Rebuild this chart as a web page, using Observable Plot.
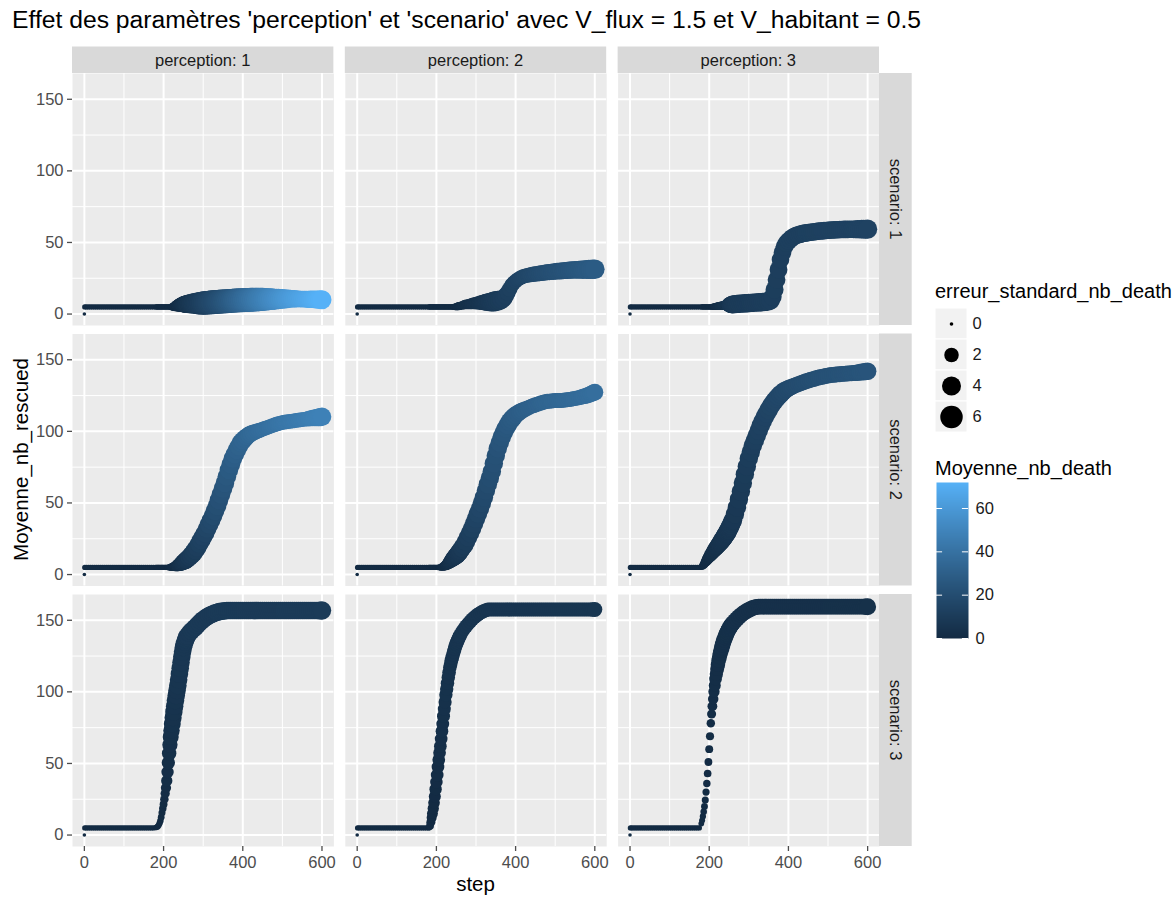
<!DOCTYPE html>
<html><head><meta charset="utf-8">
<script src="https://cdn.jsdelivr.net/npm/d3@7"></script>
<script src="https://cdn.jsdelivr.net/npm/@observablehq/plot@0.6"></script>
<style>
body{margin:0;background:#fff;font-family:"Liberation Sans",Arial,sans-serif;}
#root{position:relative;width:1175px;height:897px;overflow:hidden;background:#fff;}
#title{position:absolute;left:12px;top:8px;font-size:24.7px;line-height:1;color:#000;white-space:nowrap;}
#chart{position:absolute;left:0;top:40px;}
.leg{position:absolute;}
.legtitle{position:absolute;font-size:20px;line-height:1;color:#000;white-space:nowrap;}
#warn{position:absolute;left:940px;top:700px;color:red;font-size:12px;width:230px;}
</style></head>
<body><div id="root">
<div id="title">Effet des paramètres 'perception' et 'scenario' avec V_flux = 1.5 et V_habitant = 0.5</div>
<div id="chart"></div>
<div class="legtitle" id="sizeTitle" style="left:935px;top:281px;">erreur_standard_nb_death</div>
<div class="leg" id="sizeLegend" style="left:935px;top:307px;"></div>
<div class="legtitle" id="colorTitle" style="left:935px;top:458px;">Moyenne_nb_death</div>
<div class="leg" id="colorLegend" style="left:926px;top:472px;"></div>
<div id="warn"></div>
</div>
<script>
// ---------- categories / ticks ----------
const perceptions = [1, 2, 3];
const scenarios = [1, 2, 3];
const xMajor = [0, 200, 400, 600];
const xMinor = [100, 300, 500];
const yMajor = [0, 50, 100, 150];
const yMinor = [25, 75, 125];
const sizeBreaks = [0, 2, 4, 6];
const colorTicks = [0, 20, 40, 60];

// ---------- steps (x values) ----------
const steps = [0,1,5,10,15,20,25,30,35,40,45,50,55,60,65,70,75,80,85,90,95,100,105,110,115,120,125,130,135,140,145,150,155,160,165,170,175,
180,182,184,186,188,190,192,194,196,198,200,202,204,206,208,210,212,214,216,218,220,222,224,226,228,230,232,234,236,238,240,242,244,246,248,250,252,254,256,258,260,
265,270,275,280,285,290,295,300,305,310,315,320,325,330,335,340,345,350,355,360,365,370,375,380,385,390,395,400,405,410,415,420,425,430,435,440,445,450,455,460,465,470,475,480,485,490,495,500,505,510,515,520,525,530,535,540,545,550,555,560,565,570,575,580,585,590,595,600];

// common start (steps 0..175)
const start_rescued = [0,
5,5,5,5,5,5,5,5,5,
5,5,5,5,5,5,5,5,5,
5,5,5,5,5,5,5,5,5,
5,5,5,5,5,5,5,5,5];
const start_err = [0,
0.05,0.05,0.05,0.05,0.05,0.05,0.05,0.05,0.05,
0.05,0.05,0.05,0.05,0.05,0.05,0.05,0.05,0.05,
0.05,0.05,0.05,0.05,0.05,0.05,0.05,0.05,0.05,
0.05,0.05,0.05,0.05,0.05,0.05,0.05,0.05,0.05];
const start_death = [0,
0,0,0,0,0,0,0,0,0,
0,0,0,0,0,0,0,0,0,
0,0,0,0,0,0,0,0,0,
0,0,0,0,0,0,0,0,0];

// ---------- perception 1, scenario 1 ----------
const rescued_p1_s1 = [...start_rescued,
5,5,5,5,5,5,5,5,5,5,5,
5,5,5,5,5,5,5,5,5,5,5,
5.1,5.2,5.4,5.6,5.7,5.9,6,6.2,6.3,6.4,6.5,6.6,6.7,6.75,6.8,6.85,6.9,7,7.05,
7.2,7.3,7.4,7.4,7.5,7.5,7.6,7.7,7.8,7.9,
8,8.2,8.3,8.4,8.5,8.6,8.7,8.8,8.9,9,
9.1,9.2,9.3,9.4,9.5,9.6,9.7,9.7,9.8,9.8,
9.9,10,10,10.1,10.1,10.2,10.2,10.3,10.3,10.3,
10.4,10.4,10.4,10.4,10.5,10.5,10.5,10.6,10.6,10.6,
10.7,10.7,10.7,10.7,10.6,10.6,10.5,10.5,10.4,10.4,
10.3,10.3,10.3,10.2,10.2,10.1,10.1,10];
const err_p1_s1 = [...start_err,
0.05,0.05,0.05,0.05,0.05,0.05,0.05,0.05,0.05,0.05,
0.05,0.05,0.05,0.05,0.05,0.05,0.05,0.05,0.05,
0.1,0.15,0.2,0.3,0.45,0.6,0.75,0.9,1.05,1.2,1.4,1.6,1.8,2,2.2,2.4,2.6,2.8,3,3.2,3.4,3.6,
4,4.3,4.7,5.1,5.5,5.9,6.2,6.5,6.7,6.8,
6.9,7,7,7,7,7,7,7,7,7,
7,7,7,7,7,7,7,7,7,7,
7,7,6.9,6.8,6.7,6.6,6.5,6.3,6.1,5.9,
5.7,5.5,5.3,5.1,4.9,4.7,4.5,4.3,4.1,3.9,
3.7,3.5,3.3,3.2,3.1,3,2.9,2.9,2.9,3,
3.1,3.2,3.3,3.4,3.5,3.6,3.8,4];
const death_p1_s1 = [...start_death,
0,0,0,0,0,0,0,0,0,0,
0,0,0,0,0,0,0,0,0,
0.15,0.3,0.45,0.6,0.8,1,1.2,1.5,1.7,2,2.3,2.5,2.8,3.2,3.5,3.8,4.2,4.5,4.8,5.2,5.5,5.8,
6.5,7.3,8.2,8.9,9.6,10.3,11.1,12,13,14,
15,16,17,18,19,20,21,22,23.2,24.4,
25.6,26.8,28,29.2,30.4,31.6,32.8,34,35.2,36.4,
37.6,38.8,40,41.2,42.4,43.6,44.8,46,47.1,48.2,
49.3,50.4,51.5,52.6,53.7,54.8,55.9,57,58,59,
59.9,60.8,61.7,62.5,63.3,64,64.7,65.4,66.1,66.8,
67.5,68.2,68.9,69.6,70.3,71,71.5,72];

// ---------- perception 2, scenario 1 ----------
const rescued_p2_s1 = [...start_rescued,
5,5,5,5,5,5,5,5,5,5,
5,5,5,5,5,5,5,5,5,5,
5,5,5,5,5,5,5,5,5,5,
5,5,5,5,
5.05,5.15,5.25,5.4,5.5,5.6,5.75,
6.1,6.5,6.7,6.9,7.1,7.3,7.5,7.7,7.8,7.9,
8,8.1,8.2,8.3,8.4,8.5,8.7,9,9.3,9.6,
10.2,11,12.8,15,17.5,20,21.7,23,24.1,25,
25.7,26.4,26.7,27,27.3,27.6,27.8,28,28.2,28.4,
28.6,28.8,29,29.2,29.3,29.5,29.6,29.8,29.9,30,
30.1,30.3,30.4,30.5,30.7,30.8,30.8,30.9,30.9,31,
31,31,31.1,31.1,31.2,31.2,31.3,31.3];
const err_p2_s1 = [...start_err,
0.05,0.05,0.05,0.05,0.05,0.05,0.05,0.05,0.05,0.05,
0.05,0.05,0.05,0.05,0.05,0.05,0.05,0.05,0.05,0.05,
0.05,0.05,0.05,0.05,0.05,0.05,0.05,0.05,0.05,0.05,
0.05,
0.07,0.1,0.12,0.16,0.2,0.25,0.28,0.32,0.35,0.38,
0.45,0.55,0.65,0.75,0.9,1.05,1.2,1.4,1.6,1.9,
2.2,2.6,3,3.4,3.8,4.2,4.5,4.6,4.5,4.2,
3.8,3.3,2.9,2.6,2.4,2.2,2.1,2,2,2,
2,2,2.1,2.1,2.2,2.2,2.3,2.3,2.4,2.4,
2.5,2.5,2.6,2.6,2.7,2.7,2.8,2.8,2.9,2.9,
3,3,3.1,3.1,3.2,3.2,3.3,3.3,3.4,3.5,
3.6,3.7,3.8,3.9,4,4.1,4.2,4.3];
const death_p2_s1 = [...start_death,
0,0,0,0,0,0,0,0,0,0,
0,0,0,0,0,0,0,0,0,0,
0,0,0,0,0,0,0,0,0,0,
0,
0.1,0.3,0.4,0.6,0.8,1,1.2,1.4,1.6,1.8,
2.3,2.8,3.2,3.6,4,4.4,4.8,5.2,5.6,6,
6.4,6.8,7.2,7.6,8,8.4,8.8,9.2,9.6,10,
10.5,11,11.5,12,12.5,13,13.5,14,14.5,15,
15.5,16,16.4,16.8,17.2,17.6,18,18.4,18.8,19.2,
19.6,20,20.3,20.6,20.9,21.2,21.5,21.8,22.1,22.4,
22.7,23,23.3,23.6,23.9,24.2,24.5,24.8,25.1,25.4,
25.7,26,26.3,26.6,26.9,27.2,27.5,27.8];

// ---------- perception 3, scenario 1 ----------
const rescued_p3_s1 = [...start_rescued,
5,5,5,5,5,5,5,5,5,5,5,5,5,5,
5.05,5.1,5.15,5.2,5.3,5.35,5.4,5.5,5.55,5.6,5.7,5.75,5.8,5.9,5.95,6,6.1,6.15,6.2,6.3,6.35,6.4,6.5,6.55,6.6,6.7,6.75,
6.9,7.1,7.2,7.3,7.4,7.5,7.6,7.7,7.8,7.9,
8,8.1,8.2,8.3,8.4,8.5,8.7,8.9,9.5,12,
17,24,31,38,43,47,49.5,51,52.3,53.5,
54.3,55,55.4,55.8,56.2,56.5,56.7,56.9,57.1,57.3,
57.5,57.7,57.9,58,58.1,58.3,58.4,58.5,58.6,58.7,
58.8,58.9,58.9,59,59,59.1,59.1,59.1,59.2,59.2,
59.2,59.2,59.3,59.3,59.3,59.3,59.3,59.3];
const err_p3_s1 = [...start_err,
0.05,0.05,0.05,0.05,0.05,0.05,0.05,0.05,0.05,0.05,0.05,0.05,0.05,
0.07,0.1,0.12,0.15,0.18,0.2,0.23,0.26,0.28,0.3,0.33,0.36,0.4,0.42,0.45,0.48,0.52,0.6,0.7,0.9,1.2,1.6,2,2.4,2.8,3.1,3.3,3.5,
3.6,3.7,3.7,3.7,3.7,3.7,3.7,3.7,3.7,3.7,
3.7,3.7,3.7,3.7,3.7,3.7,3.7,3.7,3.7,3.6,
3.5,3.4,3.4,3.3,3.3,3.3,3.3,3.3,3.3,3.3,
3.3,3.3,3.3,3.3,3.3,3.3,3.3,3.3,3.3,3.3,
3.3,3.3,3.3,3.3,3.3,3.3,3.3,3.3,3.3,3.3,
3.3,3.3,3.3,3.3,3.3,3.3,3.3,3.3,3.3,3.3,
3.4,3.5,3.6,3.7,3.8,3.9,4,4.1];
const death_p3_s1 = [...start_death,
0,0,0,0,0,0,0,0,0,0,0,0,0,0,
0.3,0.6,0.9,1.2,1.5,1.8,2.1,2.5,2.8,3.1,3.4,3.7,4,4.3,4.7,5,5.3,5.6,6,6.3,6.6,6.9,7.2,7.5,7.7,7.9,8.1,
8.6,9,9.4,9.5,9.6,9.7,9.8,9.9,10,10.1,
10.2,10.3,10.4,10.5,10.6,10.7,10.8,10.9,11,11.1,
11.2,11.3,11.4,11.5,11.6,11.7,11.8,11.9,12,12,
12,12,12.1,12.1,12.2,12.2,12.3,12.3,12.4,12.4,
12.5,12.5,12.6,12.6,12.7,12.7,12.8,12.8,12.9,12.9,
13,13,13.1,13.1,13.2,13.2,13.3,13.3,13.4,13.4,
13.5,13.5,13.6,13.6,13.7,13.7,13.8,13.8];

// ---------- perception 1, scenario 2 ----------
const rescued_p1_s2 = [...start_rescued,
5,5,5,5,5,5,5,5,5,5,5,5,5,5,5,5,5,5,
5.05,5.1,5.2,5.3,5.45,5.6,5.75,5.9,6.1,6.3,6.55,6.8,7.1,7.4,7.7,8.1,8.4,8.8,9.1,9.4,9.8,10.3,10.8,
12,13.5,15,17,19,21.5,24,26.5,29,32,
35,38,41,44.5,48,52,56,60,64,68.5,
73,77,81,84,87,89.5,92,93.5,95,96.3,
97.5,98.3,99,99.5,100,100.5,101,101.5,102,102.5,
103,103.5,104,104.5,105,105.4,105.8,106.1,106.4,106.6,
106.8,107,107.2,107.4,107.6,107.8,108,108.2,108.4,108.6,
108.8,109,109.2,109.4,109.6,109.8,110,110.2];
const err_p1_s2 = [...start_err,
0.05,0.05,0.05,0.05,0.05,0.05,0.05,0.05,0.05,0.05,0.05,0.05,0.05,0.05,0.05,0.05,
0.07,0.1,0.12,0.18,0.25,0.3,0.4,0.5,0.6,0.75,0.9,1,1.2,1.4,1.6,1.8,2,2.2,2.4,2.6,2.8,3,3.1,3.2,3.3,
3.5,3.7,3.8,3.8,3.8,3.8,3.8,3.8,3.8,3.8,
3.8,3.8,3.8,3.8,3.8,3.8,3.8,3.8,3.8,3.8,
3.8,3.8,3.8,3.7,3.7,3.6,3.6,3.6,3.4,3.2,
3,2.8,2.6,2.5,2.4,2.3,2.2,2.1,2.1,2.1,
2.1,2.1,2.1,2.1,2.1,2.1,2.1,2.1,2.1,2.1,
2.1,2.1,2.1,2.1,2.1,2.1,2.1,2.1,2.1,2.1,
2.3,2.5,2.7,2.9,3.1,3.3,3.6,3.8];
const death_p1_s2 = [...start_death,
0,0,0,0,0,0,0,0,0,0,0,0,0,0,0,0,
0.2,0.4,0.6,0.9,1.2,1.4,1.7,2,2.2,2.5,2.9,3.2,3.5,3.9,4.2,4.5,4.9,5.2,5.5,5.9,6.2,6.5,6.9,7.2,7.5,
8.5,9.2,10,10.8,11.6,12.4,13.2,14,15,16,
17,18,19,20,21,22,23,24,25,26,
27,28,29,30,30.7,31.4,32.1,32.8,33.4,34,
34.6,35.2,35.7,36.2,36.7,37.2,37.6,38,38.4,38.8,
39.2,39.6,40,40.4,40.8,41.2,41.6,42,42.3,42.6,
42.9,43.2,43.5,43.8,44.1,44.4,44.7,45,45.3,45.6,
45.9,46.2,46.5,46.8,47.1,47.4,47.7,48];

// ---------- perception 2, scenario 2 ----------
const rescued_p2_s2 = [...start_rescued,
5,5,5,5,5,5,5,5,5,5,5,5,5,5,
5.02,5.05,5.15,5.3,5.5,5.7,6,6.3,6.6,6.95,7.4,7.9,8.4,9,9.5,10,10.5,11,11.5,12.1,12.6,13.1,13.6,14.3,15,15.7,16.5,
18.5,20.5,23,26,29,32,35.5,39,42.5,46,
50,54,58.5,63,67.5,72,77.5,83,88,92,
96,99,102,104.5,106.7,108.5,110,111.5,112.5,113.5,
114.3,115,115.6,116.2,116.9,117.5,118,118.5,119,119.5,
119.9,120.3,120.7,121,121.1,121.2,121.4,121.5,121.5,121.6,
121.6,121.7,121.9,122.1,122.3,122.5,122.8,123,123.3,123.5,
123.9,124.3,124.6,125,125.5,126.1,126.7,127.3];
const err_p2_s2 = [...start_err,
0.05,0.05,0.05,0.05,0.05,0.05,0.05,0.05,0.05,0.05,0.05,0.05,0.05,
0.07,0.09,0.12,0.18,0.25,0.3,0.4,0.5,0.6,0.75,0.9,1,1.2,1.4,1.6,1.8,2,2.2,2.4,2.6,2.8,3,3.1,3.2,3.3,3.4,3.5,3.5,
3.6,3.7,3.7,3.7,3.7,3.7,3.7,3.7,3.7,3.7,
3.7,3.7,3.7,3.7,3.7,3.7,3.7,3.7,3.7,3.7,
3.7,3.7,3.7,3.7,3.7,3.7,3.5,3.3,3.1,2.9,
2.7,2.5,2.4,2.3,2.2,2.2,2.2,2.2,2.2,2.2,
2.2,2.2,2.2,2.2,2.2,2.2,2.2,2.2,2.2,2.2,
2.2,2.2,2.2,2.2,2.2,2.2,2.2,2.2,2.2,2.2,
2.3,2.4,2.5,2.6,2.7,2.8,2.9,3];
const death_p2_s2 = [...start_death,
0,0,0,0,0,0,0,0,0,0,0,0,0,0,
0.2,0.3,0.5,0.8,1,1.3,1.6,1.8,2.1,2.5,2.8,3.1,3.5,3.8,4.1,4.5,4.8,5.1,5.5,5.8,6.1,6.5,6.8,7.1,7.5,7.8,8.1,
9,9.8,10.6,11.4,12.2,13,13.8,14.6,15.4,16.2,
17,17.8,18.6,19.4,20.2,21,21.7,22.4,23.1,23.8,
24.4,25,25.6,26.2,26.7,27.2,27.7,28.2,28.6,29,
29.4,29.8,30.1,30.4,30.7,31,31.3,31.6,31.9,32.2,
32.5,32.8,33,33.2,33.4,33.6,33.8,34,34.2,34.4,
34.6,34.8,35,35.2,35.4,35.6,35.8,36,36.2,36.4,
36.6,36.8,37,37.2,37.4,37.6,37.8,38];

// ---------- perception 3, scenario 2 ----------
const rescued_p3_s2 = [...start_rescued,
5.3,
5.6,6.1,6.8,7.6,8.5,9.2,10,10.8,11.6,12.4,
13.1,13.8,14.5,15.2,16,16.7,17.4,18.1,18.8,19.5,
20.2,20.9,21.6,22.3,23,23.8,24.6,25.4,26.2,27,
27.9,28.9,29.8,30.9,32,33.1,34.3,35.5,36.8,38,
42.2,47,52.5,58,64,70,75.5,81,85.5,90,
93.5,97,100.5,104,107,110,112.5,115,117.3,119.5,
121.3,123,124.5,126,127.3,128.5,129.3,130,130.7,131.3,
131.9,132.5,133,133.5,134,134.5,135,135.4,135.9,136.3,
136.7,137.1,137.5,137.8,138.1,138.4,138.7,139,139.2,139.4,
139.5,139.7,139.8,139.9,140.1,140.2,140.3,140.4,140.5,140.6,
140.7,140.9,141,141.2,141.4,141.6,141.8,142];
const err_p3_s2 = [...start_err,
0.1,
0.15,0.25,0.35,0.45,0.55,0.7,0.85,1,1.1,1.25,
1.4,1.5,1.65,1.8,1.9,2.05,2.2,2.3,2.45,2.6,
2.7,2.85,3,3.1,3.25,3.35,3.4,3.5,3.55,3.6,
3.7,3.7,3.7,3.7,3.7,3.7,3.7,3.7,3.7,3.7,
3.7,3.7,3.7,3.7,3.7,3.7,3.7,3.7,3.7,3.7,
3.7,3.7,3.7,3.7,3.7,3.7,3.7,3.7,3.7,3.7,
3.7,3.7,3.7,3.7,3.5,3.3,3.1,2.9,2.8,2.7,
2.6,2.5,2.5,2.5,2.5,2.5,2.5,2.5,2.5,2.5,
2.5,2.5,2.5,2.5,2.5,2.5,2.5,2.5,2.5,2.5,
2.5,2.5,2.5,2.5,2.5,2.5,2.5,2.5,2.5,2.5,
2.6,2.7,2.8,2.9,3,3.1,3.2,3.3];
const death_p3_s2 = [...start_death,
0,
0.2,0.4,0.6,0.8,1,1.2,1.4,1.6,1.8,2,
2.2,2.4,2.6,2.8,3,3.2,3.4,3.6,3.8,4,
4.2,4.4,4.6,4.8,5,5.2,5.3,5.5,5.7,5.8,
6,6.2,6.3,6.5,6.7,6.8,7,7.2,7.3,7.5,
7.8,8.1,8.5,9,9.5,10,10.4,10.8,11.2,11.6,
12,12.4,12.8,13.2,13.6,14,14.4,14.8,15.2,15.6,
16,16.3,16.6,16.9,17.2,17.5,17.8,18.1,18.4,18.7,
19,19.3,19.5,19.7,19.9,20.1,20.3,20.5,20.7,20.9,
21.1,21.3,21.5,21.7,21.8,21.9,22,22.1,22.2,22.3,
22.4,22.5,22.6,22.7,22.8,22.9,23,23.1,23.2,23.3,
23.4,23.5,23.6,23.7,23.8,23.9,24,24.1];

// ---------- perception 1, scenario 3 ----------
const rescued_p1_s3 = [...start_rescued,
5.2,
5.4,5.7,6.2,7,8.3,10,12.5,15.5,18.5,21.5,
25,29,33,38,44,50.5,57,63,68.5,73,
77.5,82,86,90,94,97.5,101,104.5,108.5,112.5,
116.5,120.5,124.5,128,131,133.2,135,136.6,138,139,
141,142.5,143.8,145,146.5,148,149.3,150.5,151.5,152.5,
153.3,154,154.6,155.2,155.6,156,156.3,156.5,156.6,156.8,
156.8,156.8,156.8,156.8,156.8,156.8,156.8,156.8,
156.8,156.8,156.8,156.8,156.8,156.8,156.8,156.8,
156.8,156.8,156.8,156.8,156.8,156.8,156.8,156.8,
156.8,156.8,156.8,156.8,156.8,156.8,156.8,156.8,
156.8,156.8,156.8,156.8,156.8,156.8,156.8,156.8,
156.8,156.8,156.8,156.8,156.8,156.8,156.8,156.8];
const err_p1_s3 = [...start_err,
0.05,
0.07,0.08,0.09,0.1,0.12,0.14,0.17,0.2,0.25,0.3,
0.4,0.55,0.75,1,1.3,1.6,2,2.3,2.6,2.8,
3,3.1,3.2,3.25,3.3,3.3,3.3,3.3,3.3,3.3,
3.3,3.3,3.3,3.3,3.3,3.3,3.3,3.3,3.3,3.3,
3.3,3.3,3.3,3.3,3.3,3.3,3.3,3.3,3.3,3.3,3.3,
3.3,3.3,3.3,3.3,3.3,3.3,3.3,3.3,3.3,3.3,3.3,
3.3,3.3,3.3,3.3,3.3,3.3,3.3,3.3,3.3,3.3,3.3,
3.3,3.3,3.3,3.3,3.3,3.3,3.3,3.3,3.3,3.3,3.3,
3.3,3.3,3.3,3.3,3.3,3.3,3.3,3.3,3.3,3.3,3.3,
3.3,3.3,3.3,3.3,3.3,3.3,3.3,3.3,3.3,3.3,3.3,
3.5,3.7];
const death_p1_s3 = [...start_death,
0,
0,0,0,0,0,0,0,0,
0.3,0.6,0.9,1.2,1.5,1.8,2.1,2.5,2.8,3.1,
3.4,3.7,4,4.3,4.6,4.9,5.2,5.4,5.6,5.8,
6,6.2,6.4,6.6,6.8,7,7.2,7.3,7.5,7.6,
7.8,7.9,
8.1,8.3,
8.5,8.5,8.5,8.5,8.5,8.5,8.5,8.5,8.5,8.5,8.5,8.5,
8.8,8.8,8.8,8.8,8.8,8.8,8.8,8.8,8.8,8.8,8.8,8.8,8.8,8.8,
9.1,9.1,9.1,9.1,9.1,9.1,9.1,9.1,9.1,9.1,
9.1,9.1,9.1,9.1,9.1,9.1,9.1,9.1,9.1,9.1,
9.4,9.4,9.4,9.4,9.4,9.4,9.4,9.4,9.4,9.4,
9.4,9.4,9.4,9.4,9.4,9.4,9.4,9.4,9.4,9.4];

// ---------- perception 2, scenario 3 ----------
const rescued_p2_s3 = [...start_rescued,
5,
5.2,6.5,9,12,15,18.5,22.5,27,32,37,
42,47.5,52.5,57.5,62,67,72.5,77.5,83,88,
93,98,102,106,110,113.5,117,119.5,122,124,
126,128,130,131.8,133.3,134.7,136,137.3,138.5,139.5,
142,144,145.8,147.5,149,150.5,151.8,153,154,155,155.8,156.5,157,
157.5,157.5,157.5,157.5,157.5,157.5,157.5,157.5,157.5,157.5,157.5,
157.5,157.5,157.5,157.5,157.5,157.5,157.5,157.5,157.5,157.5,157.5,
157.5,157.5,157.5,157.5,157.5,157.5,157.5,157.5,157.5,157.5,157.5,
157.5,157.5,157.5,157.5,157.5,157.5,157.5,157.5,157.5,157.5,157.5,
157.5,157.5,157.5,157.5,157.5,157.5,157.5,157.5,157.5,157.5,157.5];
const err_p2_s3 = [...start_err,
0.05,
0.1,0.3,0.5,0.7,0.9,1,1.1,1.2,1.3,1.35,
1.4,1.4,1.4,1.4,1.4,1.4,1.4,1.45,1.5,1.5,
1.55,1.6,1.6,1.65,1.65,1.7,1.7,1.7,1.75,1.75,
1.75,1.8,1.8,1.8,1.8,1.8,1.8,1.8,1.8,1.8,
1.8,1.8,1.8,1.8,1.8,1.8,1.8,1.8,1.8,1.8,1.8,
1.8,1.8,1.8,1.8,1.8,1.8,1.8,1.8,1.8,1.8,1.8,
1.8,1.8,1.8,1.8,1.8,1.8,1.8,1.8,1.8,1.8,1.8,
1.8,1.8,1.8,1.8,1.8,1.8,1.8,1.8,1.8,1.8,1.8,
1.8,1.8,1.8,1.8,1.8,1.8,1.8,1.8,1.8,1.8,1.8,
1.8,1.8,1.8,1.8,1.8,1.8,1.8,1.8,1.8,1.8,1.8,
2,2.2];
const death_p2_s3 = [...start_death,
0,
0,0,0,0,0,0,0,
0.3,0.6,0.9,1.2,1.5,1.8,2.1,2.4,2.7,3,
3.2,3.4,3.6,3.8,4,4.1,4.2,4.3,4.4,4.5,
4.6,4.7,4.8,4.9,5,5.1,5.2,5.3,5.4,5.5,
5.6,5.7,5.8,
5.9,5.9,5.9,5.9,5.9,5.9,5.9,5.9,5.9,5.9,5.9,5.9,5.9,5.9,
6.1,6.1,6.1,6.1,6.1,6.1,6.1,6.1,6.1,6.1,6.1,6.1,6.1,6.1,
6.3,6.3,6.3,6.3,6.3,6.3,6.3,6.3,6.3,6.3,
6.3,6.3,6.3,6.3,6.3,6.3,6.3,6.3,6.3,6.3,
6.5,6.5,6.5,6.5,6.5,6.5,6.5,6.5,6.5,6.5,
6.5,6.5,6.5,6.5,6.5,6.5,6.5,6.5,6.5,6.5];

// ---------- perception 3, scenario 3 ----------
const rescued_p3_s3 = [...start_rescued,
8,
10.2,13,16.3,20,24.5,30,36,43,51,60,
69,78,84.5,90,95,100,104.5,109,112.5,116,
119,122,124.5,127,129,131,133,135,136.5,138,
139.4,140.7,141.9,143,144,145,145.9,146.7,147.4,148,
149.6,151,152.4,153.6,154.7,155.7,156.5,157.3,158,158.6,159,159.3,
159.5,159.5,159.5,159.5,159.5,159.5,159.5,159.5,
159.5,159.5,159.5,159.5,159.5,159.5,159.5,159.5,
159.5,159.5,159.5,159.5,159.5,159.5,159.5,159.5,
159.5,159.5,159.5,159.5,159.5,159.5,159.5,159.5,
159.5,159.5,159.5,159.5,159.5,159.5,159.5,159.5,
159.5,159.5,159.5,159.5,159.5,159.5,159.5,159.5,
159.5,159.5,159.5,159.5,159.5,159.5,159.5,159.5];
const err_p3_s3 = [...start_err,
0.08,
0.1,0.12,0.15,0.18,0.2,0.22,0.25,0.28,0.3,0.32,
0.35,0.4,0.5,0.65,0.8,1,1.2,1.4,1.6,1.8,
2,2.1,2.2,2.3,2.4,2.45,2.5,2.5,2.5,2.5,
2.5,2.5,2.5,2.5,2.5,2.5,2.5,2.5,2.5,2.5,
2.5,2.5,2.5,2.5,2.5,2.5,2.5,2.5,2.5,2.5,2.5,
2.5,2.5,2.5,2.5,2.5,2.5,2.5,2.5,2.5,2.5,2.5,
2.5,2.5,2.5,2.5,2.5,2.5,2.5,2.5,2.5,2.5,2.5,
2.5,2.5,2.5,2.5,2.5,2.5,2.5,2.5,2.5,2.5,2.5,
2.5,2.5,2.5,2.5,2.5,2.5,2.5,2.5,2.5,2.5,2.5,
2.5,2.5,2.5,2.5,2.5,2.5,2.5,2.5,2.5,2.5,2.5,
2.8,3];
const death_p3_s3 = [...start_death,
0,
0.1,0.2,0.3,0.4,0.5,0.6,0.7,0.8,0.9,1,
1.1,1.2,1.3,1.4,1.5,1.6,1.7,1.8,1.9,2,
2.1,2.2,2.3,2.4,2.5,2.55,2.6,2.65,2.7,2.75,
2.8,2.85,2.9,2.95,3,3,3,3,3,3,
3.1,3.1,3.1,3.1,3.1,3.1,3.1,3.1,3.1,3.1,3.1,3.1,3.1,3.1,
3.2,3.2,3.2,3.2,3.2,3.2,3.2,3.2,3.2,3.2,3.2,3.2,3.2,3.2,
3.3,3.3,3.3,3.3,3.3,3.3,3.3,3.3,3.3,3.3,
3.3,3.3,3.3,3.3,3.3,3.3,3.3,3.3,3.3,3.3,
3.4,3.4,3.4,3.4,3.4,3.4,3.4,3.4,3.4,3.4,
3.4,3.4,3.4,3.4,3.4,3.4,3.4,3.4,3.4,3.4];

// ---------- table built from the arrays ----------
const panels = [
  {perception: 1, scenario: 1, rescued: rescued_p1_s1, err: err_p1_s1, death: death_p1_s1, name: "p1s1"},
  {perception: 2, scenario: 1, rescued: rescued_p2_s1, err: err_p2_s1, death: death_p2_s1, name: "p2s1"},
  {perception: 3, scenario: 1, rescued: rescued_p3_s1, err: err_p3_s1, death: death_p3_s1, name: "p3s1"},
  {perception: 1, scenario: 2, rescued: rescued_p1_s2, err: err_p1_s2, death: death_p1_s2, name: "p1s2"},
  {perception: 2, scenario: 2, rescued: rescued_p2_s2, err: err_p2_s2, death: death_p2_s2, name: "p2s2"},
  {perception: 3, scenario: 2, rescued: rescued_p3_s2, err: err_p3_s2, death: death_p3_s2, name: "p3s2"},
  {perception: 1, scenario: 3, rescued: rescued_p1_s3, err: err_p1_s3, death: death_p1_s3, name: "p1s3"},
  {perception: 2, scenario: 3, rescued: rescued_p2_s3, err: err_p2_s3, death: death_p2_s3, name: "p2s3"},
  {perception: 3, scenario: 3, rescued: rescued_p3_s3, err: err_p3_s3, death: death_p3_s3, name: "p3s3"}
];
const warnings = [];
panels.forEach(p => {
  ["rescued", "err", "death"].forEach(k => {
    if (p[k].length !== steps.length) warnings.push(p.name + " " + k + " " + p[k].length + "/" + steps.length);
  });
});
if (warnings.length) document.getElementById("warn").textContent = warnings.join("; ");

const data = panels.flatMap(p => steps.map((s, i) => ({
  step: s, perception: p.perception, scenario: p.scenario,
  rescued: p.rescued[i], err: p.err[i], death: p.death[i]
})));

// ---------- shared scales ----------
const FONT = "'Liberation Sans', Arial, sans-serif";
const rScale = {type: "sqrt", domain: [0, 7], range: [1.8, 12]};
const colorScale = {type: "linear", domain: [0, 72], range: ["#132B43", "#56B1F7"], interpolate: d3.interpolateLab};

const W = 1175, H = 857, MT = 33, MB = 51, ML = 72, MR = 296;

const chart = Plot.plot({
  width: W, height: H,
  marginTop: MT, marginBottom: MB, marginLeft: ML, marginRight: MR,
  style: {fontFamily: FONT, background: "transparent", overflow: "visible"},
  fx: {domain: perceptions, paddingInner: 0.042, paddingOuter: 0, round: false, axis: null},
  fy: {domain: scenarios, paddingInner: 0.0326, paddingOuter: 0, round: false, axis: null},
  x: {domain: [-30, 630]},
  y: {domain: [-8, 168]},
  r: rScale,
  color: colorScale,
  marks: [
    Plot.frame({fill: "#EBEBEB", stroke: "none"}),
    Plot.gridX(xMinor, {stroke: "white", strokeOpacity: 1, strokeWidth: 1}),
    Plot.gridY(yMinor, {stroke: "white", strokeOpacity: 1, strokeWidth: 1}),
    Plot.gridX(xMajor, {stroke: "white", strokeOpacity: 1, strokeWidth: 2}),
    Plot.gridY(yMajor, {stroke: "white", strokeOpacity: 1, strokeWidth: 2}),
    Plot.dot(data, {x: "step", y: "rescued", r: "err", fill: "death", fx: "perception", fy: "scenario", sort: null}),
    Plot.axisX(xMajor, {tickSize: 5, tickPadding: 4.5, fontSize: 16.5, color: "#4D4D4D", strokeWidth: 1.3, label: null}),
    Plot.axisY(yMajor, {tickSize: 5, tickPadding: 4, fontSize: 16.5, color: "#4D4D4D", strokeWidth: 1.3, label: null})
  ]
});
document.getElementById("chart").appendChild(chart);

// strips and axis titles, placed with the plot's own facet scales
const fxS = chart.scale("fx"), fyS = chart.scale("fy");
const svg = d3.select(chart);
const stripG = svg.append("g").attr("font-family", FONT);
const stripH = 26.5, stripW = 32.7;
perceptions.forEach(p => {
  const x0 = fxS.apply(p);
  stripG.append("rect").attr("x", x0).attr("y", MT - stripH).attr("width", fxS.bandwidth).attr("height", stripH).attr("fill", "#D9D9D9");
  stripG.append("text").attr("x", x0 + fxS.bandwidth / 2).attr("y", MT - stripH / 2).attr("dy", "0.35em")
    .attr("text-anchor", "middle").attr("font-size", 16.5).attr("fill", "#1A1A1A").text(`perception: ${p}`);
});
const xRight = fxS.apply(perceptions[perceptions.length - 1]) + fxS.bandwidth;
scenarios.forEach(s => {
  const y0 = fyS.apply(s);
  stripG.append("rect").attr("x", xRight).attr("y", y0).attr("width", stripW).attr("height", fyS.bandwidth).attr("fill", "#D9D9D9");
  stripG.append("text").attr("transform", `translate(${xRight + stripW / 2},${y0 + fyS.bandwidth / 2}) rotate(90)`)
    .attr("dy", "0.35em").attr("text-anchor", "middle").attr("font-size", 16.5).attr("fill", "#1A1A1A").text(`scenario: ${s}`);
});
const panelTop = fyS.apply(scenarios[0]);
const panelBottom = fyS.apply(scenarios[scenarios.length - 1]) + fyS.bandwidth;
svg.append("text").attr("font-family", FONT).attr("font-size", 20.5).attr("fill", "#000")
  .attr("text-anchor", "middle").attr("transform", `translate(21,${(panelTop + panelBottom) / 2}) rotate(-90)`)
  .attr("dy", "0.35em").text("Moyenne_nb_rescued");
svg.append("text").attr("font-family", FONT).attr("font-size", 20.5).attr("fill", "#000")
  .attr("text-anchor", "middle").attr("x", (fxS.apply(perceptions[0]) + xRight) / 2).attr("y", H - 6)
  .text("step");

// ---------- size legend ----------
const sizeLegend = Plot.plot({
  width: 60, height: 126,
  marginTop: 0, marginBottom: 0, marginLeft: 0, marginRight: 28,
  style: {fontFamily: FONT, background: "transparent", overflow: "visible"},
  y: {type: "band", domain: sizeBreaks, padding: 0, axis: null},
  r: rScale,
  marks: [
    Plot.cell(sizeBreaks, {y: d => d, fill: "#F2F2F2", stroke: "white", strokeWidth: 1}),
    Plot.dot(sizeBreaks, {y: d => d, r: d => d, fill: "black", sort: null}),
    Plot.text(sizeBreaks, {y: d => d, text: d => String(d), frameAnchor: "right", dx: 5, textAnchor: "start", fontSize: 16.5, fill: "#1A1A1A"})
  ]
});
document.getElementById("sizeLegend").appendChild(sizeLegend);

// ---------- colour bar ----------
const colorLegend = Plot.plot({
  width: 90, height: 180,
  marginTop: 10, marginBottom: 14, marginLeft: 10, marginRight: 48,
  style: {fontFamily: FONT, background: "transparent", overflow: "visible"},
  x: {domain: [0, 1], axis: null},
  y: {domain: colorScale.domain},
  color: colorScale,
  marks: [
    Plot.raster({x1: 0, x2: 1, y1: 0, y2: 72, width: 1, height: 156, fill: (x, y) => y}),
    Plot.ruleY(colorTicks, {x1: 0, x2: 0.19, stroke: "white", strokeWidth: 1}),
    Plot.ruleY(colorTicks, {x1: 0.81, x2: 1, stroke: "white", strokeWidth: 1}),
    Plot.axisY(colorTicks, {anchor: "right", tickSize: 0, tickPadding: 7, fontSize: 16.5, color: "#1A1A1A", label: null})
  ]
});
document.getElementById("colorLegend").appendChild(colorLegend);
</script>
</body></html>
